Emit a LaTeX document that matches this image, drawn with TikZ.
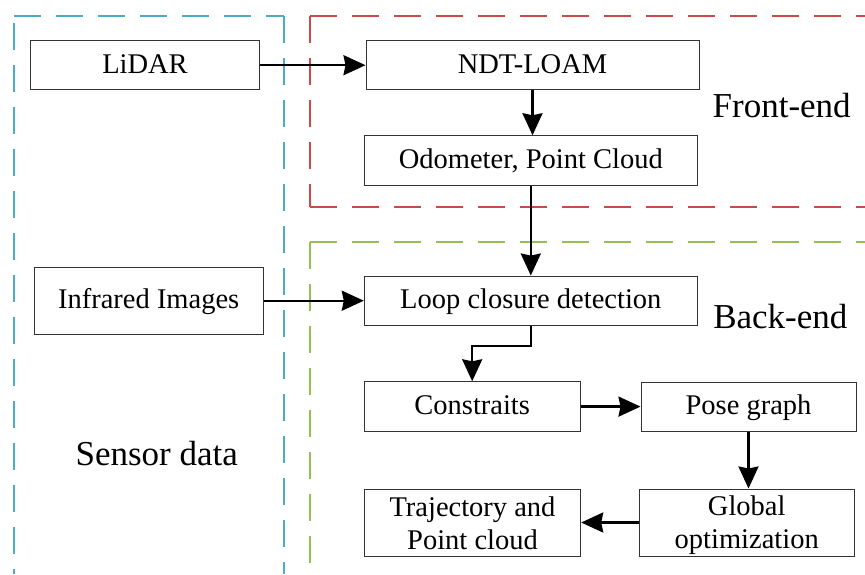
\documentclass[tikz,border=0pt]{standalone}
\usepackage{fontspec}
\setmainfont{Liberation Serif}
\usetikzlibrary{arrows.meta,calc}
\definecolor{dblue}{RGB}{75,172,198}
\definecolor{dred}{RGB}{200,75,70}
\definecolor{dgreen}{RGB}{150,190,80}
\begin{document}
\begin{tikzpicture}[x=1pt,y=-1pt,
  boxbase/.style={draw=black!80, line width=1pt, fill=white, inner sep=0pt,
    font=\fontsize{28.5}{33}\selectfont},
  onebox/.style={boxbase, text height=19.5pt, text depth=3.5pt},
  twobox/.style={boxbase, align=center, text depth=3.4pt},
  flow/.style={line width=2.4pt, -{Stealth[length=22pt,width=20pt,inset=2pt]}},
  regiondash/.style={line width=1.4pt, line cap=butt, dash pattern=on 27pt off 15pt},
  regionlabel/.style={anchor=base, inner sep=0pt, font=\fontsize{35}{40}\selectfont}]
\useasboundingbox (0,0) rectangle (865,574);

% regions (each side drawn on its own)
\draw[regiondash, color=dblue] (14,16) -- (284,16);
\draw[regiondash, color=dblue] (14,23) -- (14,574);
\draw[regiondash, color=dblue] (284,16) -- (284,574);
\draw[regiondash, color=dred] (310,16) -- (865,16);
\draw[regiondash, color=dred] (310,16) -- (310,207);
\draw[regiondash, color=dred] (310,207) -- (865,207);
\draw[regiondash, color=dgreen] (310,242) -- (865,242);
\draw[regiondash, color=dgreen] (310,242) -- (310,574);

% boxes
\node[onebox, minimum width=228.6pt, minimum height=49pt] (lidar) at (145,65.2) {LiDAR};
\node[onebox, minimum width=333pt, minimum height=49.3pt] (ndt) at (532.5,65.3) {NDT-LOAM};
\node[onebox, minimum width=332.5pt, minimum height=49.3pt] (odo) at (530.8,160.4) {Odometer, Point Cloud};
\node[onebox, minimum width=229.3pt, minimum height=66.7pt] (ir) at (148.7,300.7) {Infrared Images};
\node[onebox, minimum width=333pt, minimum height=49.7pt] (loop) at (530.8,300.9) {Loop closure detection};
\node[onebox, minimum width=215.7pt, minimum height=49.6pt] (cons) at (472.2,406.6) {Constraits};
\node[onebox, minimum width=215pt, minimum height=49pt] (pose) at (748.5,406.8) {Pose graph};
\node[twobox, text height=57pt, minimum width=216.4pt, minimum height=67pt] (traj) at (472.5,522.5) {Trajectory and\\Point cloud};
\node[twobox, text height=55pt, minimum width=215.3pt, minimum height=67pt] (glob) at (746.7,522.5) {Global\\optimization};

% labels
\node[regionlabel] (fe) at (781.7,117.3) {Front-end};
\node[regionlabel] (be) at (780.3,328) {Back-end};
\node[regionlabel] (sd) at (156.7,465) {Sensor data};

% connectors
\draw[flow] (lidar.east) -- (ndt.west |- lidar.east);
\draw[flow] (ndt.south) -- (ndt.south |- odo.north);
\draw[flow] (odo.south) -- (odo.south |- loop.north);
\draw[flow] (ir.east) -- (loop.west |- ir.east);
\coordinate (elbow) at ($(loop.south)+(0,19.5)$);
\draw[flow] (loop.south) -- (elbow) -| (cons.north);
\draw[flow] (cons.east) -- (pose.west |- cons.east);
\draw[flow] (pose.south) -- (pose.south |- glob.north);
\draw[flow] (glob.west) -- (traj.east |- glob.west);
\end{tikzpicture}
\end{document}
